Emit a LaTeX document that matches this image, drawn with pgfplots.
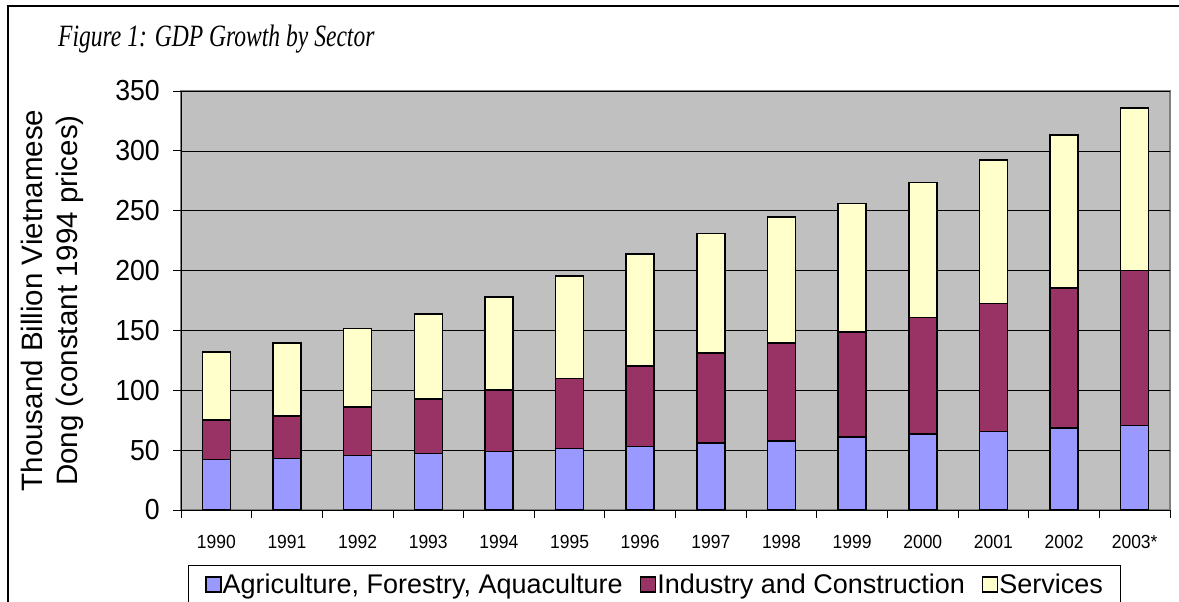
\documentclass[border=0pt]{standalone}
\usepackage{fontspec}
\setmainfont{Liberation Sans}
\newfontfamily\titlefont[FakeStretch=0.76]{Liberation Serif}
\newfontfamily\tickfont[FakeStretch=0.92]{Liberation Sans}
\usepackage{pgfplots}
\pgfplotsset{compat=1.18}
\usepackage{pgfplotstable}

\definecolor{agr}{HTML}{9999FF}
\definecolor{ind}{HTML}{993366}
\definecolor{srv}{HTML}{FFFFCC}
\definecolor{plotbg}{HTML}{C0C0C0}
\definecolor{plotborder}{HTML}{808080}

\pgfplotstableread{
x agr ind srv
0 42.0 33.3 56.5
1 42.9 35.7 60.8
2 45.4 40.7 65.6
3 47.1 45.5 71.3
4 48.8 51.3 78.0
5 51.3 58.5 85.6
6 53.0 67.4 93.4
7 55.8 75.2 100.1
8 57.7 81.7 105.4
9 60.8 88.1 107.0
10 63.6 97.0 112.9
11 65.5 106.8 120.1
12 68.3 117.1 127.7
13 70.5 129.4 135.8
}\gdp

\pgfplotsset{
  legsq/.style={legend image code/.code={%
    \draw[##1,draw=black,line width=1.5pt] (0pt,-8pt) rectangle (15pt,7pt);}},
}

\begin{document}
\begin{tikzpicture}
\useasboundingbox (0,0) rectangle (1179pt,-602pt);
\draw[black, line width=1.2pt] (8pt,-640pt) -- (8pt,-6pt) -- (1220pt,-6pt);
\node[anchor=base west, inner sep=0pt, font=\titlefont\itshape\fontsize{31}{35}\selectfont] at (58pt,-47pt) {Figure 1: GDP Growth by Sector};
\begin{axis}[
  at={(181pt,-510pt)}, anchor=south west,
  width=989pt, height=419pt, scale only axis,
  xmin=-0.5, xmax=13.5, ymin=0, ymax=350,
  ybar stacked, bar width=28pt,
  axis lines*=left,
  axis line style={-, black, line width=0.8pt},
  axis background/.style={fill=plotbg, draw=plotborder, line width=1.5pt},
  ymajorgrids, major grid style={black, line width=0.7pt},
  ytick={0,50,100,150,200,250,300,350},
  xtick={-0.5,0.5,1.5,2.5,3.5,4.5,5.5,6.5,7.5,8.5,9.5,10.5,11.5,12.5,13.5},
  xticklabels={,,,,,,,,,,,,,,},
  extra x ticks={0,1,2,3,4,5,6,7,8,9,10,11,12,13},
  extra x tick labels={1990,1991,1992,1993,1994,1995,1996,1997,1998,1999,2000,2001,2002,2003*},
  extra x tick style={major tick length=0pt},
  major tick length=8pt, tick align=outside,
  tick style={black, line width=0.8pt},
  /pgf/number format/assume math mode=true,
  yticklabel style={font=\tickfont\fontsize{29}{34}\selectfont, inner sep=0pt, xshift=-13pt},
  xticklabel style={font=\tickfont\fontsize{19}{23}\selectfont, inner sep=0pt, yshift=-25pt},
  ylabel={Thousand Billion Vietnamese\\Dong (constant 1994 prices)},
  every axis y label/.style={at={(axis description cs:-0.1304,0.5)}, anchor=center, rotate=90, align=center, font=\fontsize{29.5}{35}\selectfont},
  legend style={at={(rel axis cs:0.4788,-0.1313)}, anchor=north, draw=black, line width=1pt, fill=white,
    font=\fontsize{27}{32}\selectfont, inner xsep=17pt, inner ysep=6pt,
    nodes={inner xsep=1pt, inner ysep=2pt},
    /tikz/every even column/.append style={column sep=16pt}},
  legend columns=-1,
]
\addplot[fill=agr, draw=black, line width=1.5pt, legsq] table[x=x, y=agr]{\gdp};
\addlegendentry{Agriculture, Forestry, Aquaculture}
\addplot[fill=ind, draw=black, line width=1.5pt, legsq] table[x=x, y=ind]{\gdp};
\addlegendentry{Industry and Construction}
\addplot[fill=srv, draw=black, line width=1.5pt, legsq] table[x=x, y=srv]{\gdp};
\addlegendentry{Services}
\end{axis}
\end{tikzpicture}
\end{document}
